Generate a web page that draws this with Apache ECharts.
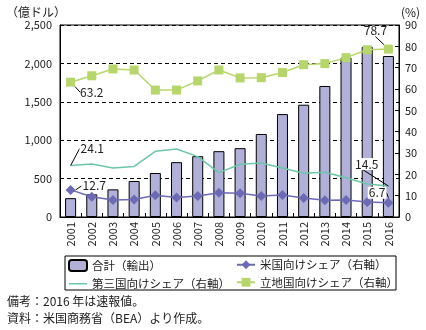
<!DOCTYPE html>
<html><head><meta charset="utf-8">
<script src="https://cdn.jsdelivr.net/npm/echarts@6/dist/echarts.min.js"></script>
<style>html,body{margin:0;padding:0;background:#fff}#c{width:426px;height:330px}</style>
</head><body><div id="c"></div>
<script>
const categories = ['2001','2002','2003','2004','2005','2006','2007','2008','2009','2010','2011','2012','2013','2014','2015','2016'];
const totalExports = [245, 295, 360, 469, 573, 714, 792, 857, 896, 1081, 1340, 1462, 1706, 2075, 2216, 2096];
const usShare = [12.7, 9.5, 8.0, 8.2, 10.2, 9.1, 9.8, 11.4, 11.1, 9.8, 10.3, 8.9, 7.8, 8.0, 7.0, 6.7];
const thirdShare = [24.1, 24.8, 23.0, 23.7, 30.8, 31.9, 28.3, 20.8, 24.7, 25.3, 23.0, 20.5, 21.0, 18.4, 15.5, 14.5];
const hostShare = [63.2, 66.2, 69.4, 68.9, 59.5, 59.5, 63.8, 68.9, 65.2, 65.3, 67.7, 71.4, 71.9, 74.7, 78.4, 78.7];
const leftTicks = {min: 0, max: 2500, interval: 500};
const rightTicks = {min: 0, max: 90, interval: 10};
const names = ['合計（輸出）', '米国向けシェア（右軸）', '第三国向けシェア（右軸）', '立地国向けシェア（右軸）'];
const notes = ['備考：2016 年は速報値。', '資料：米国商務省（BEA）より作成。'];

const FONT = '"Noto Sans CJK JP", "Noto Sans", sans-serif';
const txt = {fontFamily: FONT, fontSize: 11, color: '#222'};
const last = categories.length - 1;
const lineIcon = 'path://M0,0L0.01,0L0,0.01Z M0,4.8H18V6.2H0Z M18,11L17.99,11L18,10.99Z';

function endLabels(cfg) {
  return function (p) {
    const c = cfg[p.dataIndex];
    return c ? {dx: c[0], dy: c[1]} : {};
  };
}
function labeled(values, idxMap, bg) {
  return values.map((v, i) => {
    if (!(i in idxMap)) return v;
    return {value: v, label: {show: true, position: idxMap[i], formatter: String(v),
      fontFamily: FONT, fontSize: 12, color: '#222',
      backgroundColor: bg ? '#fff' : 'transparent', padding: bg ? [0, 1] : 0}};
  });
}
const guide = {show: true, showAbove: true, length: 0, length2: 0, lineStyle: {color: '#000', width: 1}};

const chart = echarts.init(document.getElementById('c'), null, {renderer: 'canvas'});
chart.setOption({
  animation: false,
  grid: {left: 60, right: 27, top: 25, bottom: 113, show: true, borderColor: '#000', borderWidth: 1, backgroundColor: 'transparent'},
  xAxis: {
    type: 'category', data: categories,
    axisLine: {lineStyle: {color: '#000', width: 1}},
    axisTick: {show: true, inside: true, length: 4, lineStyle: {color: '#000'}},
    axisLabel: Object.assign({rotate: 90, margin: 5, interval: 0}, txt)
  },
  yAxis: [
    Object.assign({type: 'value', name: '（億ドル）', nameGap: 7, nameLocation: 'end',
      nameTextStyle: Object.assign({}, txt, {fontSize: 12, align: 'right', padding: [0, -6, 0, 0]}),
      axisLine: {show: true, lineStyle: {color: '#000'}},
      axisTick: {show: false},
      axisLabel: Object.assign({margin: 8, formatter: v => v.toLocaleString('en-US')}, txt),
      splitLine: {show: true, lineStyle: {color: '#000', type: [4, 3], width: 1}}}, leftTicks),
    Object.assign({type: 'value', name: '(%)', nameGap: 7, nameLocation: 'end',
      nameTextStyle: Object.assign({}, txt, {fontSize: 12, align: 'left', padding: [0, 0, 0, 2]}),
      axisLine: {show: true, lineStyle: {color: '#000'}},
      axisTick: {show: true, inside: true, length: 4, lineStyle: {color: '#000'}},
      axisLabel: Object.assign({margin: 6}, txt),
      splitLine: {show: false}}, rightTicks)
  ],
  legend: [
    {orient: 'vertical', left: 63, top: 254, itemWidth: 18, itemHeight: 11, itemGap: 6,
      data: [names[0], {name: names[2], icon: lineIcon}], textStyle: {fontFamily: FONT, fontSize: 11.5, color: '#222'}},
    {orient: 'vertical', left: 231, top: 254, itemWidth: 18, itemHeight: 11, itemGap: 6,
      data: [names[1], names[3]], textStyle: {fontFamily: FONT, fontSize: 11.5, color: '#222'}}
  ],
  graphic: [
    {type: 'rect', shape: {x: 65, y: 256, width: 331, height: 34}, style: {fill: 'none', stroke: '#000', lineWidth: 1}},
    {type: 'text', left: 7, top: 295, style: {text: notes[0], font: '12px ' + FONT, fill: '#222'}},
    {type: 'text', left: 7, top: 312, style: {text: notes[1], font: '12px ' + FONT, fill: '#222'}}
  ],
  series: [
    {name: names[0], type: 'bar', data: totalExports, barWidth: '52%', yAxisIndex: 0,
      itemStyle: {color: '#b0b0d9', borderColor: '#000', borderWidth: 1}, z: 2},
    {name: names[2], type: 'line', data: labeled(thirdShare, {0: 'right', [last]: 'left'}, true), yAxisIndex: 1,
      symbol: 'circle', symbolSize: 0, showSymbol: true, lineStyle: {color: '#6cc7a8', width: 1.5}, itemStyle: {color: '#6cc7a8'},
      labelLine: guide, labelLayout: endLabels({0: [4, -17], [last]: [-4, -22]}), z: 3},
    {name: names[1], type: 'line', data: labeled(usShare, {0: 'right', [last]: 'left'}, true), yAxisIndex: 1,
      symbol: 'diamond', symbolSize: 10, lineStyle: {color: '#6d6ab5', width: 1.5}, itemStyle: {color: '#6d6ab5'},
      labelLine: guide, labelLayout: endLabels({0: [1, -4], [last]: [8, -10]}), z: 4},
    {name: names[3], type: 'line', data: labeled(hostShare, {0: 'right', [last]: 'top'}, false), yAxisIndex: 1,
      symbol: 'rect', symbolSize: 9, lineStyle: {color: '#b6d66c', width: 1.5}, itemStyle: {color: '#b6d66c'},
      labelLine: guide, labelLayout: endLabels({0: [0, 10], [last]: [-13, -3]}), z: 5}
  ]
});
</script></body></html>
